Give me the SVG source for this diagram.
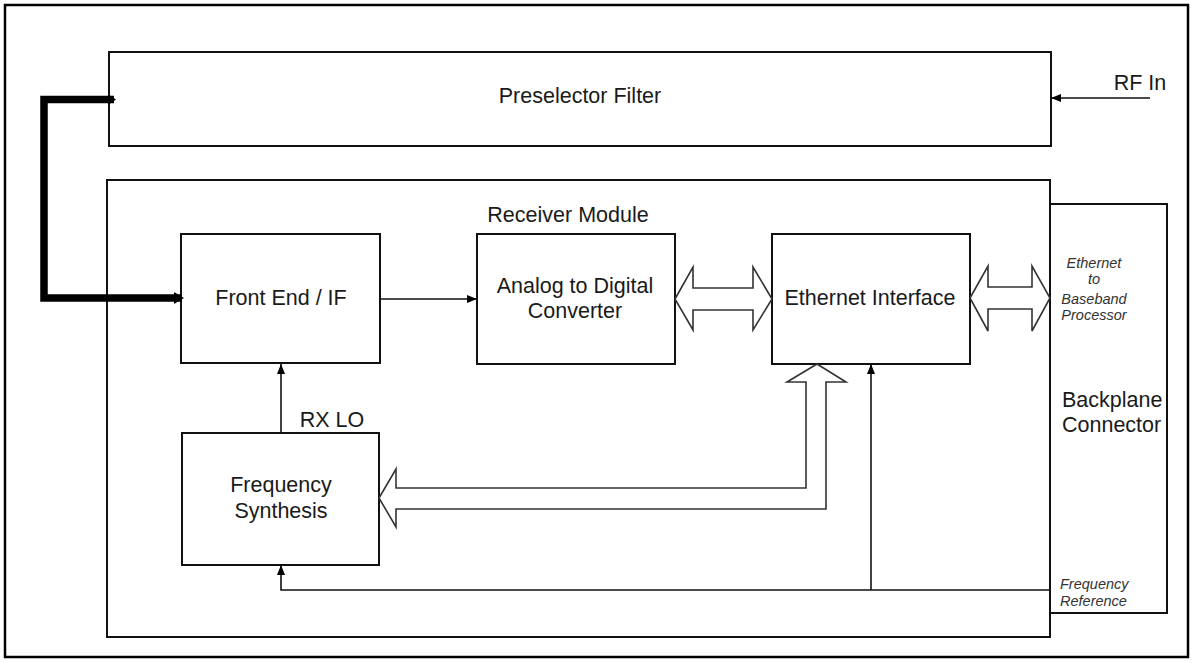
<svg xmlns="http://www.w3.org/2000/svg" width="1194" height="663" viewBox="0 0 1194 663">
  <defs>
    <marker id="arrow" viewBox="0 0 10 8" refX="10" refY="4" markerWidth="10" markerHeight="8" markerUnits="userSpaceOnUse" orient="auto">
      <path d="M0,0 L10,4 L0,8 Z" fill="#000"/>
    </marker>
    <marker id="arrowThick" viewBox="0 0 10 8" refX="8" refY="4" markerWidth="10" markerHeight="8" markerUnits="userSpaceOnUse" orient="auto">
      <path d="M0,0 L10,4 L0,8 Z" fill="#000"/>
    </marker>
  </defs>
  <style>
    .box { fill: #fff; stroke: #111; stroke-width: 2; }
    .lbl { font-family: "Liberation Sans", Arial, sans-serif; font-size: 21.5px; fill: #1a1a1a; text-anchor: middle; }
    .small { font-family: "Liberation Sans", Arial, sans-serif; font-size: 14.5px; font-style: italic; fill: #333; }
    .wire { fill: none; stroke: #111; stroke-width: 1.6; }
    .bus { fill: #fff; stroke: #333; stroke-width: 1.6; stroke-linejoin: miter; }
  </style>

  <rect width="1194" height="663" fill="#fff"/>
  <!-- page frame -->
  <rect x="5" y="5" width="1183" height="652" fill="none" stroke="#000" stroke-width="2.5"/>

  <g id="preselector">
    <rect class="box" x="109" y="52" width="942" height="94"/>
    <text class="lbl" x="580" y="103" font-size="21.5">Preselector Filter</text>
  </g>

  <g id="backplane">
    <rect class="box" x="1050" y="204" width="117" height="409"/>
    <text class="small" x="1094" y="268" text-anchor="middle">Ethernet</text>
    <text class="small" x="1094" y="284" text-anchor="middle">to</text>
    <text class="small" x="1094" y="304" text-anchor="middle">Baseband</text>
    <text class="small" x="1094" y="320" text-anchor="middle">Processor</text>
    <text class="lbl" x="1062" y="407" style="text-anchor:start">Backplane</text>
    <text class="lbl" x="1062" y="432" style="text-anchor:start">Connector</text>
    <text class="small" x="1060" y="589">Frequency</text>
    <text class="small" x="1060" y="606">Reference</text>
  </g>

  <g id="receiver-module">
    <rect class="box" x="107" y="180" width="943" height="457"/>
    <text class="lbl" x="568" y="222" font-size="20">Receiver Module</text>
  </g>

  <g id="front-end">
    <rect class="box" x="181" y="234" width="199" height="129"/>
    <text class="lbl" x="281" y="305">Front End / IF</text>
  </g>

  <g id="adc">
    <rect class="box" x="477" y="234" width="198" height="130"/>
    <text class="lbl" x="575" y="293">Analog to Digital</text>
    <text class="lbl" x="575" y="318">Converter</text>
  </g>

  <g id="ethernet">
    <rect class="box" x="772" y="234" width="198" height="130"/>
    <text class="lbl" x="870" y="305">Ethernet Interface</text>
  </g>

  <g id="freq-synth">
    <rect class="box" x="182" y="433" width="197" height="132"/>
    <text class="lbl" x="281" y="492">Frequency</text>
    <text class="lbl" x="281" y="518">Synthesis</text>
  </g>

  <g id="connectors">
    <!-- RF feed from filter to front end -->
    <path d="M114,99.5 H44 V298 H182" fill="none" stroke="#000" stroke-width="7.5" stroke-linejoin="miter"/>
    <path d="M108,94 L116,99.5 L108,105 Z" fill="#000"/>
    <path d="M174,292 L184,298 L174,304 Z" fill="#000"/>
    <!-- RF In -->
    <line class="wire" x1="1150" y1="98" x2="1051" y2="98" marker-end="url(#arrow)"/>
    <text class="lbl" x="1140" y="90" font-size="21">RF In</text>
    <!-- front end to ADC -->
    <line class="wire" x1="380" y1="299" x2="477" y2="299" marker-end="url(#arrow)"/>
    <!-- RX LO -->
    <line class="wire" x1="281" y1="433" x2="281" y2="364" marker-end="url(#arrow)"/>
    <text class="lbl" x="332" y="427" font-size="20">RX LO</text>
    <!-- frequency reference distribution -->
    <path class="wire" d="M1050,590 H281 V565" marker-end="url(#arrow)"/>
    <path class="wire" d="M871,590 V364" marker-end="url(#arrow)"/>
    <!-- data buses -->
    <polygon class="bus" points="675,299 693,267 693,288 753,288 753,267 772,299 753,330 753,310 693,310 693,330"/>
    <polygon class="bus" points="970,298 988,266 988,287 1032,287 1032,266 1050,298 1032,331 1032,309 988,309 988,331"/>
    <polygon class="bus" points="817,364 846,382 826,382 826,509 396,509 396,527 379,498 396,469 396,488 806,488 806,382 787,382"/>
  </g>
</svg>
